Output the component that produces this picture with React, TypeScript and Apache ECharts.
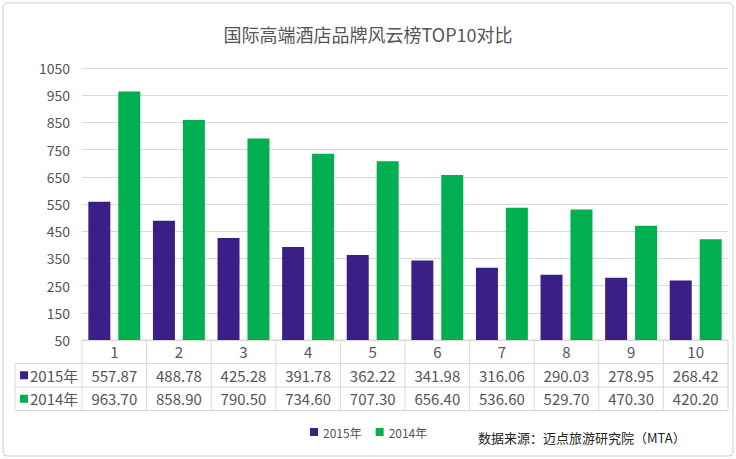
import React, { useEffect, useRef } from 'react';
import * as echarts from 'echarts';

const categories = ['1', '2', '3', '4', '5', '6', '7', '8', '9', '10'];
const values2015 = [557.87, 488.78, 425.28, 391.78, 362.22, 341.98, 316.06, 290.03, 278.95, 268.42];
const values2014 = [963.7, 858.9, 790.5, 734.6, 707.3, 656.4, 536.6, 529.7, 470.3, 420.2];
const seriesNames = ['2015年', '2014年'];
const colors = ['#3a1f86', '#00b050'];
const BASE = 50;

const L = 82, R = 728, T = 68, B = 340;
const ROW = 23.5;

export default function App() {
  const ref = useRef<HTMLDivElement>(null);
  useEffect(() => {
    if (!ref.current) return;
    const chart = echarts.init(ref.current, null, { renderer: 'svg' });
    const cw = (R - L) / categories.length;
    const font = '"Noto Sans CJK SC", sans-serif';
    const g: any[] = [];
    const lineStyle = { stroke: '#d9d9d9', lineWidth: 1 };
    // horizontal table lines
    g.push({ type: 'line', shape: { x1: L, y1: B, x2: R, y2: B }, style: lineStyle });
    for (let i = 1; i <= 3; i++) {
      g.push({ type: 'line', shape: { x1: 15, y1: B + ROW * i, x2: R, y2: B + ROW * i }, style: lineStyle });
    }
    g.push({ type: 'line', shape: { x1: 15, y1: B + ROW, x2: 15, y2: B + ROW * 3 }, style: lineStyle });
    for (let i = 0; i <= categories.length; i++) {
      g.push({ type: 'line', shape: { x1: L + cw * i, y1: B, x2: L + cw * i, y2: B + ROW * 3 }, style: lineStyle });
    }
    categories.forEach((c, i) => {
      const cx = L + cw * (i + 0.5);
      g.push({ type: 'text', x: cx, y: B + ROW * 0.5, style: { text: c, font: `15px ${font}`, fill: '#555', align: 'center', verticalAlign: 'middle' } });
      [values2015, values2014].forEach((arr, k) => {
        g.push({ type: 'text', x: cx, y: B + ROW * (k + 1.5), style: { text: arr[i].toFixed(2), font: `15px ${font}`, fill: '#555', align: 'center', verticalAlign: 'middle' } });
      });
    });
    seriesNames.forEach((n, k) => {
      const cy = B + ROW * (k + 1.5);
      g.push({ type: 'rect', shape: { x: 20, y: cy - 4, width: 8, height: 8 }, style: { fill: colors[k] } });
      g.push({ type: 'text', x: 30, y: cy, style: { text: n, font: `15px ${font}`, fill: '#555', verticalAlign: 'middle' } });
    });
    g.push({ type: 'text', x: 478, y: 437, style: { text: '数据来源：迈点旅游研究院（MTA）', font: `13px ${font}`, fill: '#222', verticalAlign: 'middle' } });
    g.push({ type: 'rect', shape: { x: 3, y: 3, width: 730, height: 453, r: 4 }, style: { fill: 'none', stroke: '#d0d0d0', lineWidth: 1 } });

    chart.setOption({
      animation: false,
      textStyle: { fontFamily: font },
      title: { text: '国际高端酒店品牌风云榜TOP10对比', left: 'center', top: 20, textStyle: { fontSize: 18, fontWeight: 'normal', color: '#555' } },
      legend: { bottom: 16, left: 305, itemWidth: 8, itemHeight: 8, itemGap: 14, icon: 'rect', textStyle: { fontSize: 12, color: '#555' }, data: seriesNames },
      grid: { left: L, right: 736 - R, top: T, bottom: 459 - B },
      xAxis: { type: 'category', data: categories, axisLine: { show: false }, axisTick: { show: false }, axisLabel: { show: false } },
      yAxis: {
        type: 'value', min: 0, max: 1000, interval: 100,
        axisLabel: { formatter: (v: number) => String(v + BASE), fontSize: 14, color: '#555', margin: 12 },
        splitLine: { lineStyle: { color: '#d9d9d9' } }, axisLine: { show: false }, axisTick: { show: false },
      },
      series: [values2015, values2014].map((arr, k) => ({
        name: seriesNames[k], type: 'bar', barWidth: 22, barGap: '36%',
        itemStyle: { color: colors[k] }, data: arr.map(v => v - BASE),
      })),
      graphic: g,
    });
    return () => chart.dispose();
  }, []);
  return <div ref={ref} style={{ width: 736, height: 459, position: 'absolute', left: 0, top: 0, background: '#fff' }} />;
}
